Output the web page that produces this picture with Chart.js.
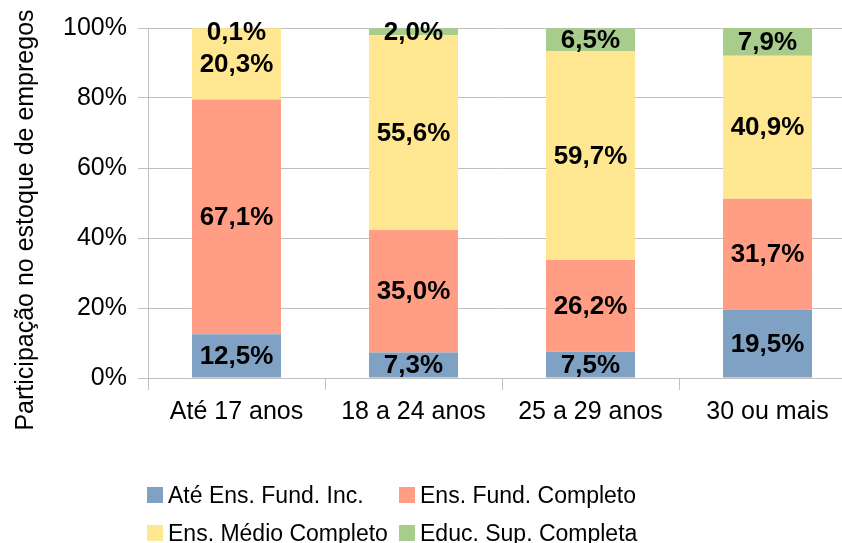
<!DOCTYPE html>
<html>
<head>
<meta charset="utf-8">
<script src="https://cdn.jsdelivr.net/npm/chart.js@4/dist/chart.umd.min.js"></script>
<style>
  html, body { margin: 0; padding: 0; background: #fff; overflow: hidden; }
  #wrap { position: relative; width: 860px; height: 543px; }
  #legend { position: absolute; left: 147px; top: 487px; display: grid;
            grid-template-columns: 252px auto; grid-auto-rows: 38px;
            font-family: "Liberation Sans", Arial, sans-serif; font-size: 23px; color: #000; }
  .item { display: flex; align-items: center; height: 16px; white-space: nowrap; }
  .box { width: 16px; height: 16px; margin-right: 5px; flex: none; }
</style>
</head>
<body>
<div id="wrap">
  <canvas id="c" width="860" height="543"></canvas>
  <div id="legend"></div>
</div>
<script>
const categories = ["Até 17 anos", "18 a 24 anos", "25 a 29 anos", "30 ou mais"];
const seriesNames = ["Até Ens. Fund. Inc.", "Ens. Fund. Completo", "Ens. Médio Completo", "Educ. Sup. Completa"];
const fundInc = [12.5, 7.3, 7.5, 19.5];
const fundComp = [67.1, 35.0, 26.2, 31.7];
const medioComp = [20.3, 55.6, 59.7, 40.9];
const supComp = [0.1, 2.0, 6.5, 7.9];
const yTicks = [0, 20, 40, 60, 80, 100];
const yTitle = "Participação no estoque de empregos";
const colors = ["#7ea1c4", "#ff9e84", "#ffe791", "#a8cc8c"];

const seriesValues = [fundInc, fundComp, medioComp, supComp];
const FONT = '"Liberation Sans", Arial, sans-serif';

const labelPlugin = {
  id: 'segLabels',
  afterDatasetsDraw(chart) {
    const ctx = chart.ctx;
    ctx.save();
    ctx.font = 'bold 26px ' + FONT;
    ctx.fillStyle = '#000';
    ctx.textAlign = 'center';
    ctx.textBaseline = 'middle';
    chart.data.datasets.forEach((ds, i) => {
      const meta = chart.getDatasetMeta(i);
      meta.data.forEach((bar, j) => {
        let cy = (bar.y + bar.base) / 2;
        cy = Math.max(cy, chart.chartArea.top + 4);
        const txt = ds.data[j].toFixed(1).replace('.', ',') + '%';
        ctx.fillText(txt, bar.x, cy + 1);
      });
    });
    ctx.restore();
  }
};

const titlePlugin = {
  id: 'yTitle',
  afterDraw(chart) {
    const ctx = chart.ctx;
    ctx.save();
    ctx.translate(33, 220);
    ctx.rotate(-Math.PI / 2);
    ctx.font = '25px ' + FONT;
    ctx.fillStyle = '#000';
    ctx.textAlign = 'center';
    ctx.textBaseline = 'alphabetic';
    ctx.fillText(yTitle, 0, 0);
    ctx.restore();
  }
};

const chart = new Chart(document.getElementById('c'), {
  type: 'bar',
  data: {
    labels: categories,
    datasets: seriesValues.map((vals, i) => ({
      label: seriesNames[i],
      data: vals,
      backgroundColor: colors[i],
      borderWidth: 0,
      categoryPercentage: 1.0,
      barPercentage: 0.503
    }))
  },
  options: {
    responsive: false,
    animation: false,
    layout: { padding: { left: 0, right: 4, top: 28, bottom: 100 } },
    plugins: { legend: { display: false }, tooltip: { enabled: false } },
    scales: {
      x: {
        stacked: true,
        grid: { display: true, drawOnChartArea: false, drawTicks: true, tickLength: 12, color: '#c0c0c0', offset: true },
        border: { display: true, color: '#c0c0c0', width: 1 },
        ticks: { color: '#000', font: { family: FONT, size: 25 }, padding: 7, maxRotation: 0 },
        afterFit(scale) { scale.height = 65; }
      },
      y: {
        stacked: true,
        min: 0, max: 100,
        afterBuildTicks(scale) { scale.ticks = yTicks.map(v => ({ value: v })); },
        grid: { color: '#c0c0c0', lineWidth: 1, tickLength: 10, drawTicks: true },
        border: { display: true, color: '#c0c0c0', width: 1 },
        ticks: { color: '#000', font: { family: FONT, size: 25 }, padding: 11, callback: v => v + '%' },
        afterFit(scale) { scale.width = 148; }
      }
    }
  },
  plugins: [labelPlugin, titlePlugin]
});

const legend = document.getElementById('legend');
seriesNames.forEach((name, i) => {
  const item = document.createElement('div');
  item.className = 'item';
  const box = document.createElement('span');
  box.className = 'box';
  box.style.background = colors[i];
  const t = document.createElement('span');
  t.textContent = name;
  item.appendChild(box);
  item.appendChild(t);
  legend.appendChild(item);
});
</script>
</body>
</html>
